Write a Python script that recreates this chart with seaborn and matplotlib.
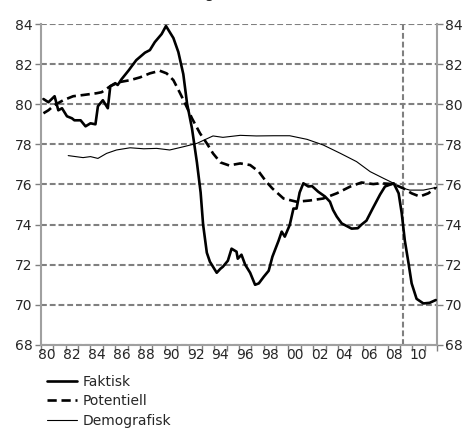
import seaborn as sns
import matplotlib.pyplot as plt
import pandas as pd
import numpy as np
from matplotlib.ticker import FixedLocator, NullFormatter

# values (year as decimal, percent)
faktisk_x = [1980.2, 1980.6, 1981.1, 1981.4, 1981.7, 1982.1, 1982.5, 1982.7, 1983.2, 1983.6,
             1984.0, 1984.4, 1984.6, 1985.0, 1985.4, 1985.6, 1986.0, 1986.2, 1986.5, 1987.1,
             1987.3, 1987.7, 1988.4, 1988.8, 1989.2, 1989.75, 1990.1, 1990.7, 1991.1, 1991.5,
             1991.8, 1992.2, 1992.6, 1992.9, 1993.1, 1993.4, 1993.65, 1994.2, 1994.5, 1994.7,
             1995.1, 1995.4, 1995.8, 1995.9, 1996.2, 1996.5, 1996.9, 1997.3, 1997.6, 1998.0,
             1998.4, 1998.7, 1999.2, 1999.45, 1999.7, 2000.1, 2000.4, 2000.65, 2000.9, 2001.2,
             2001.6, 2001.9, 2002.4, 2002.95, 2003.35, 2003.6, 2003.9, 2004.3, 2005.1, 2005.6,
             2005.9, 2006.3, 2006.8, 2007.4, 2007.8, 2008.5, 2008.9, 2009.15, 2009.4, 2009.7,
             2009.95, 2010.35, 2010.9, 2011.4, 2011.9]
faktisk_y = [80.26, 80.1, 80.4, 79.7, 79.8, 79.4, 79.3, 79.2, 79.2, 78.9,
             79.05, 79.0, 79.9, 80.2, 79.8, 80.9, 81.05, 80.96, 81.24, 81.7,
             81.87, 82.2, 82.57, 82.7, 83.1, 83.5, 83.9, 83.3, 82.6, 81.5,
             80.05, 78.8, 77.1, 75.6, 74.0, 72.6, 72.15, 71.6, 71.8, 71.9,
             72.2, 72.8, 72.65, 72.3, 72.5, 72.0, 71.6, 71.0, 71.07, 71.4,
             71.7, 72.4, 73.2, 73.65, 73.4, 73.98, 74.8, 74.8, 75.6, 76.06,
             75.9, 75.92, 75.64, 75.4, 75.14, 74.73, 74.4, 74.06, 73.8, 73.82,
             74.0, 74.2, 74.8, 75.5, 75.9, 76.06, 75.56, 74.56, 73.2, 72.07,
             71.07, 70.3, 70.07, 70.1, 70.24]

potentiell_x = [1980.2, 1980.6, 1981.1, 1981.8, 1982.6, 1983.4, 1984.5, 1984.9, 1985.6, 1986.3,
                1987.2, 1988.0, 1988.8, 1989.6, 1990.15, 1990.7, 1991.2, 1991.6, 1992.2, 1992.85,
                1993.4, 1993.9, 1994.5, 1995.2, 1996.1, 1996.9, 1997.6, 1998.2, 1998.7, 1999.6,
                2000.65, 2001.7, 2002.8, 2003.9, 2005.0, 2005.9, 2006.85, 2007.4, 2008.5, 2009.3,
                2009.95, 2010.6, 2011.3, 2011.9]
potentiell_y = [79.55, 79.7, 79.96, 80.2, 80.4, 80.46, 80.55, 80.6, 80.9, 81.1,
                81.2, 81.34, 81.54, 81.67, 81.54, 81.2, 80.6, 80.1, 79.3, 78.55,
                78.05, 77.55, 77.1, 76.95, 77.05, 76.97, 76.64, 76.14, 75.8, 75.3,
                75.14, 75.2, 75.3, 75.56, 75.9, 76.1, 76.02, 76.06, 76.02, 75.8,
                75.56, 75.4, 75.56, 75.84]

demografisk_x = [1982.2, 1983.4, 1984.0, 1984.6, 1985.3, 1986.1, 1987.2, 1988.3, 1989.35, 1990.4,
                 1991.5, 1992.6, 1993.9, 1994.7, 1996.1, 1997.4, 1998.8, 2000.1, 2001.5, 2002.8,
                 2004.2, 2005.5, 2006.6, 2007.7, 2008.5, 2009.0, 2009.8, 2010.9, 2012.0]
demografisk_y = [77.44, 77.34, 77.39, 77.3, 77.55, 77.72, 77.83, 77.78, 77.8, 77.72,
                 77.88, 78.05, 78.42, 78.35, 78.45, 78.42, 78.43, 78.43, 78.25, 77.97,
                 77.55, 77.14, 76.64, 76.3, 76.06, 75.86, 75.72, 75.72, 75.86]

years = list(range(1980, 2012))
prognos_start = 2009.25

sns.set_theme(style="white")
plt.rcParams['font.family'] = ['DejaVu Sans']
plt.switch_backend('agg')

fig, ax = plt.subplots(figsize=(4.7, 4.28), dpi=100)
fig.subplots_adjust(left=0.0872, right=0.9298, top=0.9439, bottom=0.194)

grey = '#808080'
for v in range(68, 85, 2):
    ax.axhline(v, color=grey, lw=1.5, ls=(0, (2.8, 1.4)), zorder=1)
ax.axvline(prognos_start, color=grey, lw=1.5, ls=(0, (2.8, 1.4)), zorder=1)

df_f = pd.DataFrame({'x': faktisk_x, 'y': faktisk_y})
df_p = pd.DataFrame({'x': potentiell_x, 'y': potentiell_y})
df_d = pd.DataFrame({'x': demografisk_x, 'y': demografisk_y})
sns.lineplot(data=df_f, x='x', y='y', ax=ax, color='black', lw=1.9, label='Faktisk', zorder=3)
sns.lineplot(data=df_p, x='x', y='y', ax=ax, color='black', lw=1.9, label='Potentiell', zorder=3)
ax.lines[-1].set_linestyle((0, (3.5, 1.8)))
sns.lineplot(data=df_d, x='x', y='y', ax=ax, color='black', lw=0.8, label='Demografisk', zorder=3)

ax.set_xlim(1980, 2012)
ax.set_ylim(68, 84)
ax.set_yticks(range(68, 85, 2))
ax.set_xlabel('')
ax.set_ylabel('')

# ticks at year boundaries, labels in the middle of every second year
ax.xaxis.set_major_locator(FixedLocator(years + [2012]))
ax.xaxis.set_major_formatter(NullFormatter())
ax.xaxis.set_minor_locator(FixedLocator([y + 0.5 for y in years[::2]]))
ax.set_xticklabels([f"{y % 100:02d}" for y in years[::2]], minor=True)
ax.tick_params(axis='x', which='major', length=4, width=1, color=grey, direction='out', bottom=True)
ax.tick_params(axis='x', which='minor', length=0, labelsize=10, pad=2)
ax.tick_params(axis='y', length=4, width=1, color=grey, direction='out', left=True, right=True,
               labelleft=True, labelright=True, labelsize=10, pad=2)

for s in ['left', 'right', 'bottom']:
    ax.spines[s].set_visible(True)
    ax.spines[s].set_color('#a0a0a0')
    ax.spines[s].set_linewidth(1.5)
ax.spines['top'].set_visible(False)

ax.legend(loc='upper left', bbox_to_anchor=(0.085, 0.14), bbox_transform=fig.transFigure,
          frameon=False, fontsize=10, handlelength=2.2, handletextpad=0.4,
          labelspacing=0.38, borderpad=0)

# title sits above the visible area, only a descender reaches into the picture
fig.text(0.497, 1.004, 'Procent av befolkningen', ha='right', va='baseline', fontsize=11)

plt.savefig('out.png', dpi=100)
plt.close()
